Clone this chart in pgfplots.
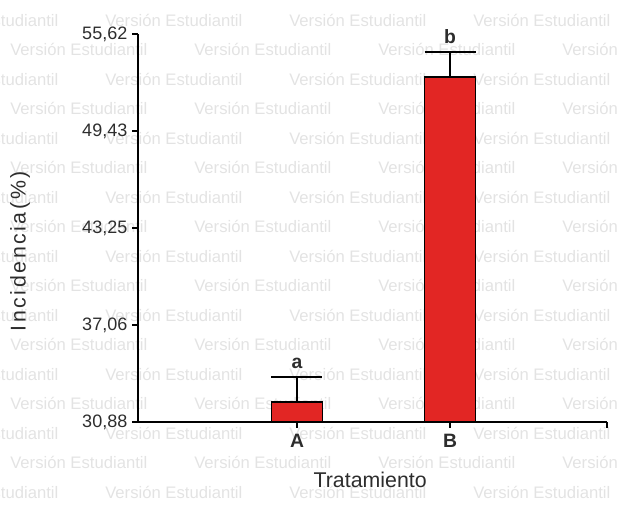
\documentclass[border=0pt]{standalone}
\usepackage{pgfplots}
\pgfplotsset{compat=1.18}
\usepackage{fontspec}
\setmainfont{Liberation Sans}
\setsansfont{Liberation Sans}
\definecolor{barred}{RGB}{226,38,36}
\definecolor{tickgray}{RGB}{45,45,45}
\begin{document}
\begin{tikzpicture}
\useasboundingbox (0,0) rectangle (462.75pt,384.75pt);
\begin{scope}
\clip (0,0) rectangle (462.75pt,384.75pt);
\foreach \r in {0,...,17}{
  \pgfmathsetmacro\yy{384.75-(20+29.5*\r)*0.75}
  \pgfmathsetmacro\off{mod(\r,2)==0 ? -79 : 10}
  \foreach \k in {0,...,4}{
    \pgfmathsetmacro\xx{(\off+184*\k)*0.75}
    \node[anchor=west, inner sep=0, font=\fontsize{12.5}{13}\selectfont, text=black!11] at (\xx pt, \yy pt) {Versión Estudiantil};
  }
}
\end{scope}
\begin{axis}[
  at={(103.5pt,68.25pt)}, anchor=south west,
  scale only axis,
  width=351.75pt, height=291pt,
  axis lines*=left,
  axis line style={line width=1pt, black},
  tick pos=left,
  tick align=outside,
  major tick length=4.5pt,
  every tick/.style={line width=1pt, black},
  xmin=-1.039, xmax=2.026,
  ymin=30.88, ymax=55.62,
  xtick={0,1},
  xticklabels={A,B},
  extra x ticks={2.026},
  extra x tick labels={},
  xticklabel style={font=\fontsize{14.5}{15}\selectfont\bfseries, text=tickgray, yshift=-1pt},
  ytick={30.88,37.06,43.25,49.43,55.62},
  yticklabels={{30,88},{37,06},{43,25},{49,43},{55,62}},
  yticklabel style={font=\fontsize{13.5}{14}\selectfont, text=tickgray},
  ylabel={\addfontfeature{LetterSpace=12}Incidencia(\%)},
  ylabel style={font=\fontsize{16}{17}\selectfont, text=tickgray, at={(axis description cs:-0.2516,0.44)}, anchor=center, rotate=0},
  xlabel={Tratamiento},
  xlabel style={font=\fontsize{16}{17}\selectfont, text=tickgray, at={(axis description cs:0.495,-0.148)}, anchor=center},
  clip mode=individual,
]
\addplot[ybar, bar width=38.25pt, bar shift=0pt, fill=barred, draw=black, line width=1pt,
  error bars/.cd, y dir=plus, y explicit,
  error mark=|,
  error bar style={line width=1pt, black},
  error mark options={line width=1pt, black, mark size=19.125pt}]
  coordinates {(0,32.16) +- (0,1.59) (1,52.88) +- (0,1.60)};
\node[anchor=base, font=\fontsize{14.5}{15}\selectfont\bfseries, text=tickgray] at (axis cs:0,33.75) [yshift=6.5pt] {a};
\node[anchor=base, font=\fontsize{14.5}{15}\selectfont\bfseries, text=tickgray] at (axis cs:1,54.48) [yshift=6.5pt] {b};
\end{axis}
\end{tikzpicture}
\end{document}
